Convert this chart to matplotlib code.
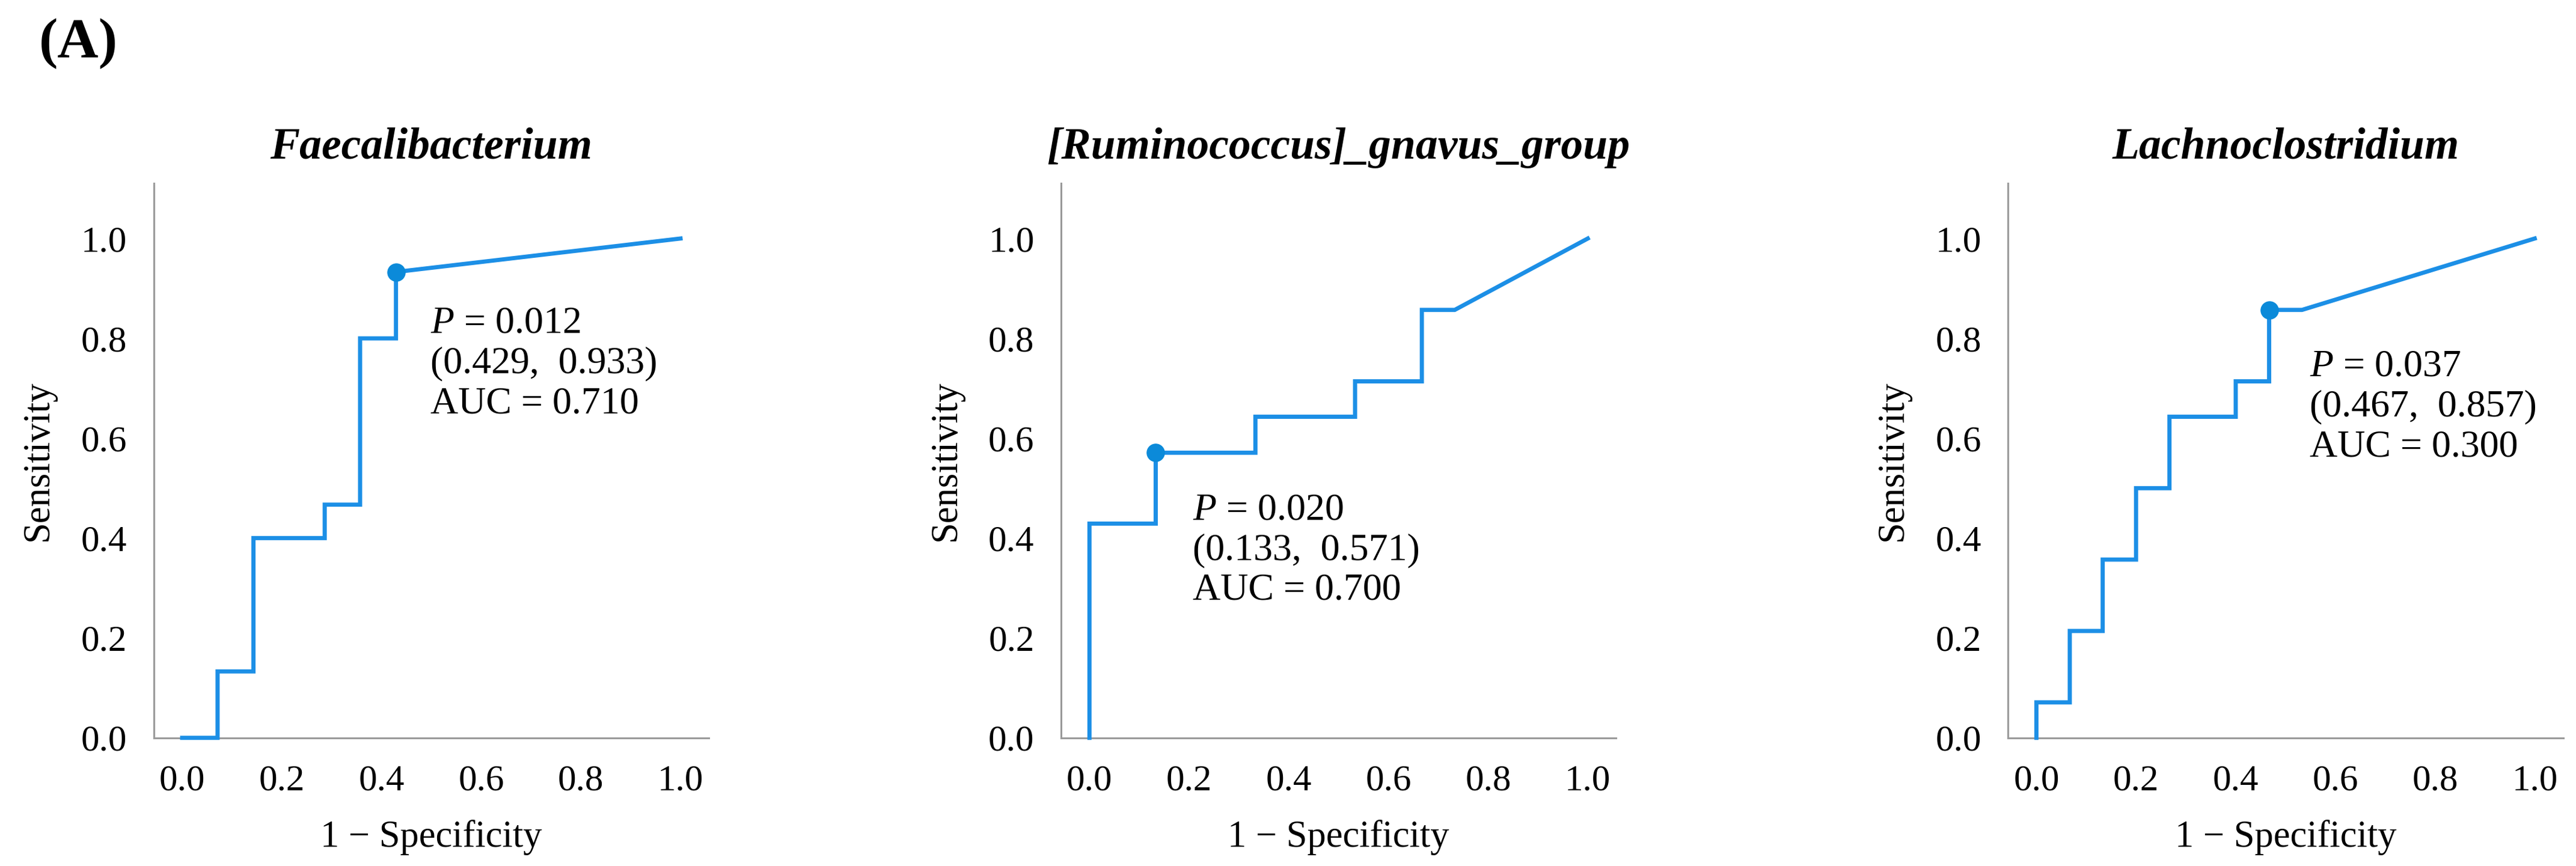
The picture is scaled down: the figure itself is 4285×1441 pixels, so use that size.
import matplotlib
matplotlib.use("Agg")
import matplotlib.pyplot as plt

plt.rcParams["font.family"] = ["Liberation Serif", "DejaVu Serif"]
plt.rcParams["mathtext.fontset"] = "custom"
plt.rcParams["mathtext.rm"] = "Liberation Serif"
plt.rcParams["mathtext.it"] = "Liberation Serif:italic"

# ---- data (ROC steps) ----
titles = ["Faecalibacterium", "[Ruminococcus]_gnavus_group", "Lachnoclostridium"]
fpr_faecali = [0.0, 0.071, 0.071, 0.143, 0.143, 0.286, 0.286, 0.357, 0.357, 0.429, 0.429, 1.0]
tpr_faecali = [0.0, 0.0, 0.133, 0.133, 0.400, 0.400, 0.467, 0.467, 0.800, 0.800, 0.933, 1.0]
fpr_rumino = [0.0, 0.0, 0.133, 0.133, 0.333, 0.333, 0.533, 0.533, 0.667, 0.667, 0.733, 1.0]
tpr_rumino = [0.0, 0.429, 0.429, 0.571, 0.571, 0.643, 0.643, 0.714, 0.714, 0.857, 0.857, 1.0]
fpr_lachno = [0.0, 0.0, 0.067, 0.067, 0.133, 0.133, 0.200, 0.200, 0.267, 0.267, 0.400, 0.400,
              0.467, 0.467, 0.533, 1.0]
tpr_lachno = [0.0, 0.071, 0.071, 0.214, 0.214, 0.357, 0.357, 0.500, 0.500, 0.643, 0.643, 0.714,
              0.714, 0.857, 0.857, 1.0]
cut_x = [0.429, 0.133, 0.467]
cut_y = [0.933, 0.571, 0.857]
p_vals = ["0.012", "0.020", "0.037"]
aucs = ["0.710", "0.700", "0.300"]
ticks = [0.0, 0.2, 0.4, 0.6, 0.8, 1.0]

curves = [(fpr_faecali, tpr_faecali), (fpr_rumino, tpr_rumino), (fpr_lachno, tpr_lachno)]
txt_pos = [(0.498, 0.749), (0.207, 0.375), (0.548, 0.662)]   # left x, block centre y
ax_left = [0.0597, 0.4119, 0.7795]
LINE, DOT = "#1C8FE6", "#0B8AD9"

fig = plt.figure(figsize=(42.85, 14.41), dpi=100)
for i in range(3):
    ax = fig.add_axes([ax_left[i], 0.148, 0.2155, 0.64])
    fx, fy = curves[i]
    ax.plot(fx, fy, color=LINE, lw=5, solid_joinstyle="miter", clip_on=False, zorder=3)
    ax.plot(cut_x[i], cut_y[i], "o", color=DOT, ms=21, clip_on=False, zorder=4)
    s = f"$P$ = {p_vals[i]}\n({cut_x[i]:.3f},  {cut_y[i]:.3f})\nAUC = {aucs[i]}"
    ax.text(txt_pos[i][0], txt_pos[i][1], s, fontsize=46, ha="left", va="center", linespacing=1.2)
    ax.set_xlim(-0.057, 1.057); ax.set_ylim(0, 1.11)
    ax.set_xticks(ticks); ax.set_yticks(ticks)
    ax.set_xticklabels([f"{t:.1f}" for t in ticks]); ax.set_yticklabels([f"{t:.1f}" for t in ticks])
    ax.tick_params(length=0, pad=32, labelsize=44)
    for sp in ["top", "right"]:
        ax.spines[sp].set_visible(False)
    for sp in ["left", "bottom"]:
        ax.spines[sp].set_color("#9a9a9a"); ax.spines[sp].set_linewidth(2.2)
    ax.set_xlabel("1 \u2212 Specificity", fontsize=45, labelpad=26)
    ax.set_ylabel("Sensitivity", fontsize=45, labelpad=30)
    ax.set_title(titles[i], fontsize=53, fontweight="bold", fontstyle="italic", pad=30)

fig.text(0.0152, 0.979, "(A)", fontsize=68, fontweight="bold", ha="left", va="top")
fig.savefig("out.png", dpi=100)
